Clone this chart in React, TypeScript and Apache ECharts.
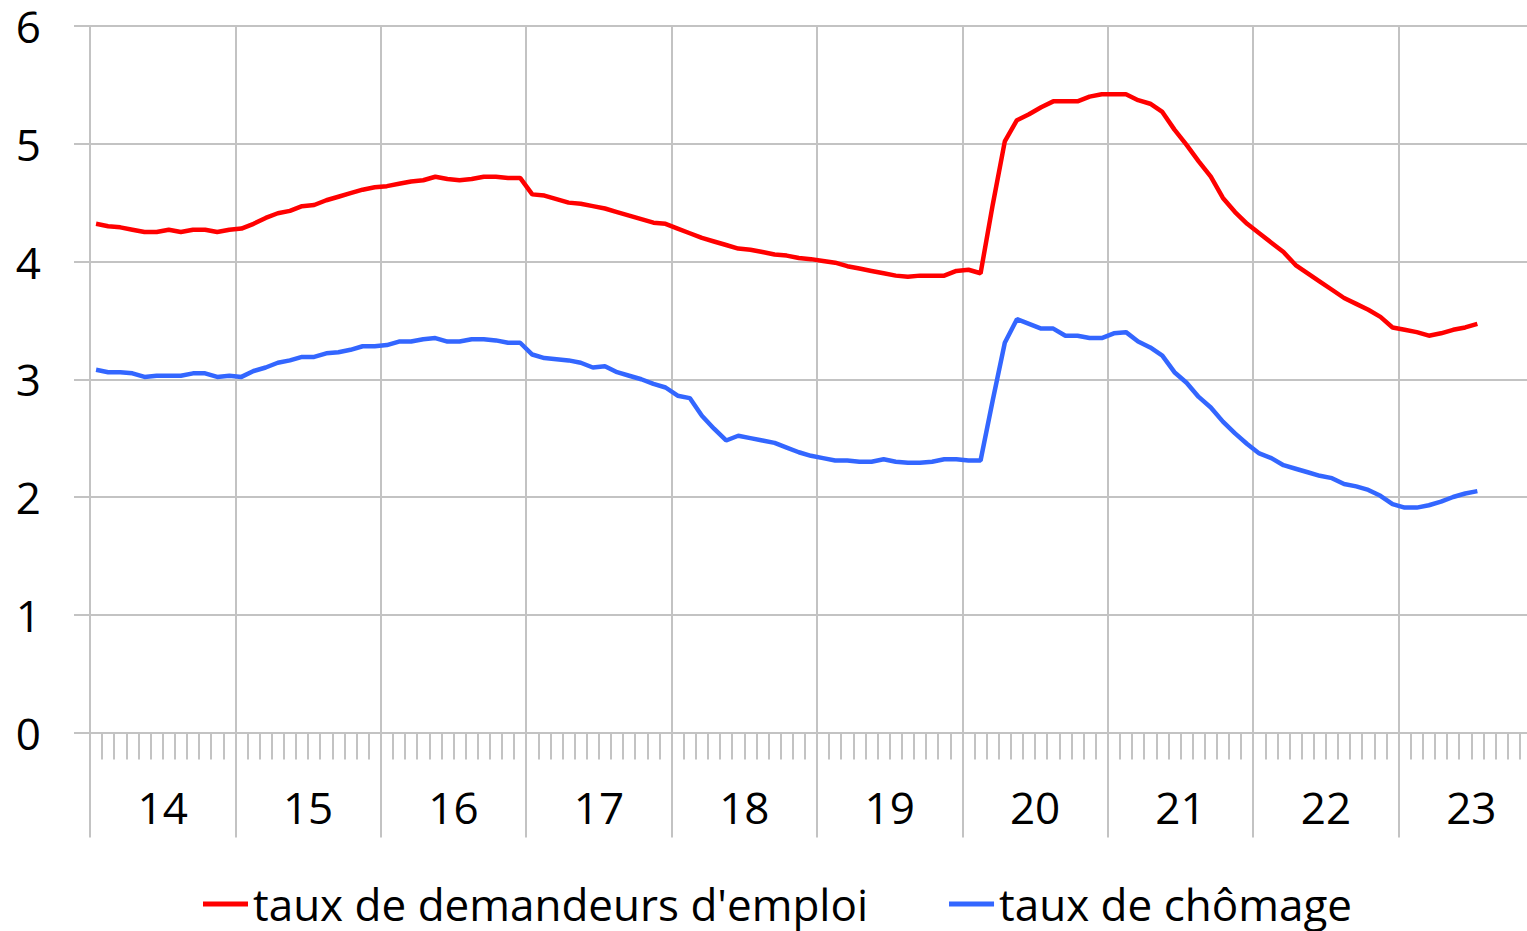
import React, { useEffect, useRef } from "react";
import * as echarts from "echarts";

// Years shown on the axis (20xx), monthly categories Jan 2014 – Dec 2023
const yearLabels = ["14", "15", "16", "17", "18", "19", "20", "21", "22", "23"];
const monthCount = 12;

// Monthly values, Jan 2014 – Jul 2023
const demandeurs = [
  4.32, 4.30, 4.29, 4.27, 4.25, 4.25, 4.27, 4.25, 4.27, 4.27, 4.25, 4.27,
  4.28, 4.32, 4.37, 4.41, 4.43, 4.47, 4.48, 4.52, 4.55, 4.58, 4.61, 4.63,
  4.64, 4.66, 4.68, 4.69, 4.72, 4.70, 4.69, 4.70, 4.72, 4.72, 4.71, 4.71,
  4.57, 4.56, 4.53, 4.50, 4.49, 4.47, 4.45, 4.42, 4.39, 4.36, 4.33, 4.32,
  4.28, 4.24, 4.20, 4.17, 4.14, 4.11, 4.10, 4.08, 4.06, 4.05, 4.03, 4.02,
  4.005, 3.99, 3.96, 3.94, 3.92, 3.90, 3.88, 3.87, 3.88, 3.88, 3.88, 3.92,
  3.93, 3.90, 4.48, 5.02, 5.20, 5.25, 5.31, 5.36, 5.36, 5.36, 5.40, 5.42,
  5.42, 5.42, 5.37, 5.34, 5.27, 5.12, 4.99, 4.85, 4.72, 4.54, 4.42, 4.32,
  4.24, 4.16, 4.08, 3.97, 3.90, 3.83, 3.76, 3.69, 3.64, 3.59, 3.53, 3.44,
  3.42, 3.40, 3.37, 3.39, 3.42, 3.44, 3.47,
];

const chomage = [
  3.08, 3.06, 3.06, 3.05, 3.02, 3.03, 3.03, 3.03, 3.05, 3.05, 3.02, 3.03,
  3.02, 3.07, 3.10, 3.14, 3.16, 3.19, 3.19, 3.22, 3.23, 3.25, 3.28, 3.28,
  3.29, 3.32, 3.32, 3.34, 3.35, 3.32, 3.32, 3.34, 3.34, 3.33, 3.31, 3.31,
  3.21, 3.18, 3.17, 3.16, 3.14, 3.10, 3.11, 3.06, 3.03, 3.00, 2.96, 2.93,
  2.86, 2.84, 2.69, 2.58, 2.48, 2.52, 2.50, 2.48, 2.46, 2.42, 2.38, 2.35,
  2.33, 2.31, 2.31, 2.30, 2.30, 2.32, 2.30, 2.29, 2.29, 2.30, 2.32, 2.32,
  2.31, 2.31, 2.82, 3.31, 3.51, 3.47, 3.43, 3.43, 3.37, 3.37, 3.35, 3.35,
  3.39, 3.40, 3.32, 3.27, 3.20, 3.06, 2.97, 2.85, 2.76, 2.64, 2.54, 2.45,
  2.37, 2.33, 2.27, 2.24, 2.21, 2.18, 2.16, 2.11, 2.09, 2.06, 2.01, 1.94,
  1.91, 1.91, 1.93, 1.96, 2.00, 2.03, 2.05,
];

const seriesNames = ["taux de demandeurs d'emploi", "taux de chômage"];
const seriesColors = ["#ff0000", "#3366ff"];

const FONT = "Open Sans";
const GRID_COLOR = "#c3c3c3";

export default function App() {
  const ref = useRef<HTMLDivElement>(null);

  useEffect(() => {
    if (!ref.current) return;
    const chart = echarts.init(ref.current, undefined, { renderer: "svg" });

    const months: string[] = [];
    yearLabels.forEach((y) => {
      for (let m = 1; m <= monthCount; m++) months.push(`20${y}-${String(m).padStart(2, "0")}`);
    });
    const total = months.length;
    const yearStarts = yearLabels.map((_, i) => i * monthCount).concat([total]);
    const yearMids = yearLabels.map((_, i) => i * monthCount + monthCount / 2);

    const lineStyle = { color: GRID_COLOR, width: 2 };

    chart.setOption({
      animation: false,
      grid: { left: 90, right: 0, top: 26, bottom: 198.5, containLabel: false },
      xAxis: [
        {
          type: "category",
          data: months,
          boundaryGap: true,
          axisLine: { show: true, lineStyle },
          axisTick: { show: true, interval: 0, length: 27, lineStyle },
          axisLabel: { show: false },
          splitLine: {
            show: true,
            interval: (i: number) => i % monthCount === 0,
            lineStyle,
          },
        },
        {
          type: "value",
          min: 0,
          max: total,
          position: "bottom",
          axisLine: { show: false },
          axisTick: { show: true, customValues: yearStarts, length: 105, lineStyle },
          axisLabel: {
            show: true,
            customValues: yearMids,
            formatter: (v: number) => yearLabels[Math.floor(v / monthCount)],
            margin: 52,
            fontSize: 44,
            lineHeight: 44,
            fontFamily: FONT,
            color: "#000",
          },
          splitLine: { show: false },
        },
      ],
      yAxis: {
        type: "value",
        min: 0,
        max: 6,
        interval: 1,
        axisLine: { show: false },
        axisTick: { show: true, length: 16, lineStyle },
        axisLabel: { margin: 49, fontSize: 44, lineHeight: 40, fontFamily: FONT, color: "#000" },
        splitLine: { show: true, lineStyle },
      },
      legend: {
        left: 203,
        top: 882,
        padding: 0,
        icon: "rect",
        itemWidth: 45,
        itemHeight: 5,
        itemGap: 81,
        textStyle: { fontSize: 44, lineHeight: 44, fontFamily: FONT, color: "#000" },
        data: seriesNames,
      },
      series: [
        {
          name: seriesNames[0],
          type: "line",
          xAxisIndex: 0,
          data: demandeurs,
          symbol: "none",
          lineStyle: { color: seriesColors[0], width: 4.5 },
          itemStyle: { color: seriesColors[0] },
        },
        {
          name: seriesNames[1],
          type: "line",
          xAxisIndex: 0,
          data: chomage,
          symbol: "none",
          lineStyle: { color: seriesColors[1], width: 4.5 },
          itemStyle: { color: seriesColors[1] },
        },
      ],
    });

    return () => chart.dispose();
  }, []);

  return (
    <div
      style={{
        position: "fixed",
        left: 0,
        top: 0,
        width: 1527,
        height: 931,
        overflow: "hidden",
        background: "#fff",
      }}
    >
      <div ref={ref} style={{ width: 1544, height: 931 }} />
    </div>
  );
}
